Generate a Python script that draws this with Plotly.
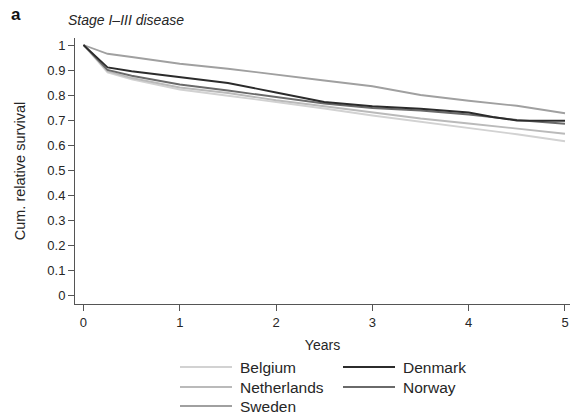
import plotly.graph_objects as go

years = [0, 0.25, 0.5, 1, 1.5, 2, 2.5, 3, 3.5, 4, 4.25, 4.5, 5]
belgium = [1, 0.89, 0.862, 0.822, 0.797, 0.772, 0.746, 0.718, 0.693, 0.670, 0.658, 0.643, 0.615]
netherlands = [1, 0.895, 0.868, 0.830, 0.808, 0.779, 0.755, 0.730, 0.706, 0.686, 0.676, 0.666, 0.645]
norway = [1, 0.90, 0.877, 0.842, 0.818, 0.792, 0.766, 0.748, 0.738, 0.722, 0.71, 0.70, 0.685]
denmark = [1, 0.91, 0.895, 0.87, 0.848, 0.81, 0.772, 0.755, 0.745, 0.73, 0.712, 0.698, 0.697]
sweden = [1, 0.965, 0.952, 0.925, 0.905, 0.88, 0.858, 0.835, 0.80, 0.777, 0.767, 0.757, 0.727]

series = [
    ("Belgium", belgium, "#d2d2d2"),
    ("Netherlands", netherlands, "#bababa"),
    ("Sweden", sweden, "#a0a0a0"),
    ("Norway", norway, "#6a6a6a"),
    ("Denmark", denmark, "#2b2b2b"),
]

y_ticks = [0, 0.1, 0.2, 0.3, 0.4, 0.5, 0.6, 0.7, 0.8, 0.9, 1]
y_labels = ["0", "0.1", "0.2", "0.3", "0.4", "0.5", "0.6", "0.7", "0.8", "0.9", "1"]
x_ticks = [0, 1, 2, 3, 4, 5]

FONT = "Liberation Sans, Arial, sans-serif"
TXT = "#262626"

fig = go.Figure()
for name, vals, col in series:
    fig.add_trace(go.Scatter(x=years, y=vals, mode="lines", name=name,
                             line=dict(color=col, width=1.8), showlegend=False))

W, H = 572, 415
L, R, T, B = 75, 2, 38, 111


def xp(x):
    return (x - L) / (W - L - R)


def yp(y):
    return (H - B - y) / (H - T - B)


fig.update_layout(
    width=W, height=H,
    margin=dict(l=L, r=R, t=T, b=B, autoexpand=False),
    plot_bgcolor="white", paper_bgcolor="white",
    font=dict(family=FONT, color=TXT, size=12),
    xaxis=dict(range=[-0.088, 5.052], tickvals=x_ticks, ticks="outside",
               ticklen=6, tickcolor="#555", showline=True, linecolor="#555",
               linewidth=1, showgrid=False, zeroline=False,
               tickfont=dict(size=13, color=TXT),
               title=dict(text="Years", font=dict(size=14, color=TXT), standoff=11)),
    yaxis=dict(range=[-0.036, 1.028], tickvals=y_ticks, ticktext=y_labels,
               ticks="outside", ticklen=6, tickcolor="#555", showline=True,
               linecolor="#555", linewidth=1, showgrid=False, zeroline=False,
               tickfont=dict(size=13, color=TXT),
               title=dict(text="Cum. relative survival", font=dict(size=14.5, color=TXT), standoff=18)),
)

# Panel label and subtitle
fig.add_annotation(xref="paper", yref="paper", x=xp(9), y=yp(15),
                   text="<b>a</b>", showarrow=False, xanchor="left", yanchor="middle",
                   font=dict(size=17, color="#111"))
fig.add_annotation(xref="paper", yref="paper", x=xp(66), y=yp(20),
                   text="<i>Stage I\u2013III disease</i>", showarrow=False,
                   xanchor="left", yanchor="middle", font=dict(size=14, color=TXT))

# Manual legend (two columns)
legend_order = ["Belgium", "Denmark", "Netherlands", "Norway", "Sweden"]
colors = {n: c for n, _, c in series}
col_x = [180, 343]
row_y = [367, 387, 406]
for i, name in enumerate(legend_order):
    cx = col_x[i % 2]
    ry = row_y[i // 2]
    fig.add_shape(type="line", xref="paper", yref="paper",
                  x0=xp(cx), x1=xp(cx + 52), y0=yp(ry), y1=yp(ry),
                  line=dict(color=colors[name], width=2))
    fig.add_annotation(xref="paper", yref="paper",
                       x=xp(cx + 58), y=yp(ry),
                       text=name, showarrow=False, xanchor="left", yanchor="middle",
                       font=dict(size=15.5, color=TXT))

fig.write_html("out.html", config={"displayModeBar": False},
               post_script="document.body.style.margin='0';")
